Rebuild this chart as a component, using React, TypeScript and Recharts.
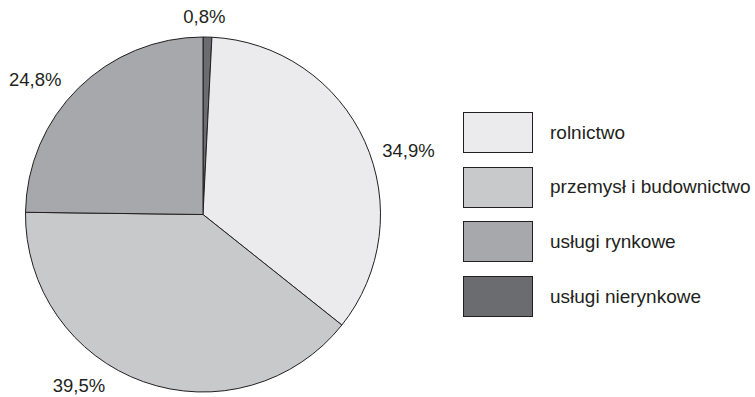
import { PieChart, Pie, Cell, Legend } from "recharts"

// sectors in legend order
const sectors = ["rolnictwo", "przemysł i budownictwo", "usługi rynkowe", "usługi nierynkowe"]
const shares = [34.9, 39.5, 24.8, 0.8]
const fills = ["#ebebed", "#c8c9cb", "#a7a8ab", "#6b6c6f"]

// label nudges (dx, dy) from the default outside position, legend order
const labelShift = [
  [10, 24],
  [-52, -31],
  [-17, 18],
  [-4, 16],
]

const INK = "#231f20"
const FONT = "'Liberation Sans', Arial, sans-serif"
const RAD = Math.PI / 180

const rows = sectors.map((name, i) => ({ name, value: shares[i], idx: i }))
// pie starts at 12 o'clock with the small slice, then runs clockwise
const pieData = [rows[rows.length - 1], ...rows.slice(0, rows.length - 1)]

function renderLabel(props: any) {
  const { cx, cy, midAngle, outerRadius, payload } = props
  const idx = payload.idx
  const r = outerRadius + 37
  const x = cx + r * Math.cos(-midAngle * RAD) + labelShift[idx][0]
  const y = cy + r * Math.sin(-midAngle * RAD) + labelShift[idx][1]
  return (
    <text
      x={x}
      y={y}
      textAnchor="middle"
      dominantBaseline="central"
      fill={INK}
      fontSize={18.5}
      fontFamily={FONT}
    >
      {shares[idx].toFixed(1).replace(".", ",")}%
    </text>
  )
}

function renderLegend() {
  return (
    <div style={{ fontFamily: FONT, fontSize: 19, color: INK }}>
      {sectors.map((name, i) => (
        <div
          key={name}
          style={{ display: "flex", alignItems: "center", height: 41, marginBottom: 13.7 }}
        >
          <div
            style={{
              width: 68,
              height: 39,
              background: fills[i],
              border: `1px solid ${INK}`,
              marginRight: 17,
            }}
          />
          <span style={{ whiteSpace: "nowrap" }}>{name}</span>
        </div>
      ))}
    </div>
  )
}

export default function App() {
  return (
    <div style={{ position: "fixed", left: 0, top: 0, width: 755, height: 397, background: "#fff" }}>
      <PieChart width={755} height={397} margin={{ top: 0, right: 0, bottom: 0, left: 0 }}>
        <Pie
          data={pieData}
          dataKey="value"
          nameKey="name"
          cx={203}
          cy={214.5}
          outerRadius={177.5}
          startAngle={90}
          endAngle={-270}
          stroke={INK}
          strokeWidth={1}
          label={renderLabel}
          labelLine={false}
          isAnimationActive={false}
        >
          {pieData.map((d) => (
            <Cell key={d.name} fill={fills[d.idx]} />
          ))}
        </Pie>
        <Legend
          content={renderLegend}
          layout="vertical"
          wrapperStyle={{ position: "absolute", left: 463, top: 112, width: 292 }}
        />
      </PieChart>
    </div>
  )
}
